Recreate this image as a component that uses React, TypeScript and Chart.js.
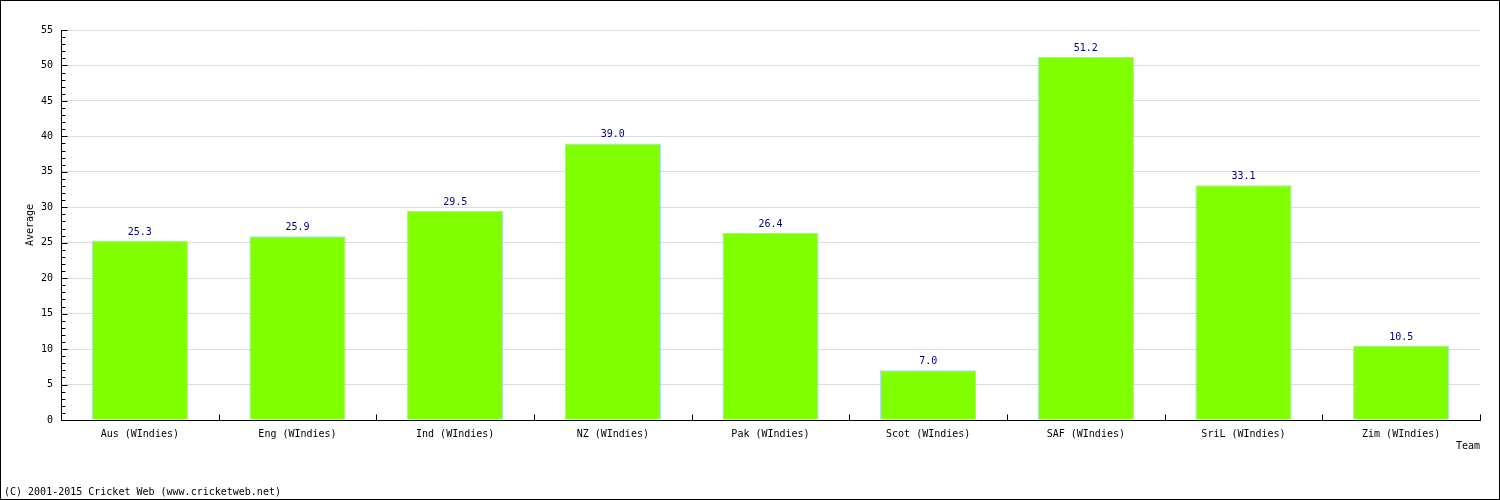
import { useEffect, useRef } from 'react';
import { Chart, registerables } from 'chart.js';

Chart.register(...registerables);

const categories = [
  'Aus (WIndies)',
  'Eng (WIndies)',
  'Ind (WIndies)',
  'NZ (WIndies)',
  'Pak (WIndies)',
  'Scot (WIndies)',
  'SAF (WIndies)',
  'SriL (WIndies)',
  'Zim (WIndies)',
];
const averages = [25.3, 25.9, 29.5, 39.0, 26.4, 7.0, 51.2, 33.1, 10.5];
const yMin = 0;
const yMax = 55;
const yStep = 5;
const yMinorStep = 1;
const yTitle = 'Average';
const xTitle = 'Team';
const footer = '(C) 2001-2015 Cricket Web (www.cricketweb.net)';

const FONT = "'DejaVu Sans Mono', monospace";

const decor = {
  id: 'decor',
  afterDatasetsDraw(chart: any) {
    const ctx = chart.ctx;
    const meta = chart.getDatasetMeta(0);
    ctx.save();
    ctx.font = `10px ${FONT}`;
    ctx.fillStyle = '#000080';
    ctx.textAlign = 'center';
    ctx.textBaseline = 'alphabetic';
    meta.data.forEach((el: any, i: number) => {
      ctx.fillText(averages[i].toFixed(1), el.x, el.y - 6);
    });
    ctx.restore();
  },
  afterDraw(chart: any) {
    const ctx = chart.ctx;
    const ys = chart.scales.y;
    const xs = chart.scales.x;
    const area = chart.chartArea;
    ctx.save();
    ctx.strokeStyle = '#000';
    ctx.lineWidth = 1;
    // y minor/major ticks (inside)
    const ax = Math.round(area.left) + 0.5;
    for (let v = yMin; v <= yMax; v += yMinorStep) {
      const y = Math.round(ys.getPixelForValue(v)) + 0.5;
      const len = v % yStep === 0 ? 6 : 4;
      ctx.beginPath();
      ctx.moveTo(ax, y);
      ctx.lineTo(ax + len, y);
      ctx.stroke();
    }
    // x ticks at category boundaries (upward)
    const by = Math.round(area.bottom) + 0.5;
    for (let i = 1; i <= categories.length; i++) {
      const x = Math.round((xs.getPixelForValue(i - 1) + xs.getPixelForValue(Math.min(i, categories.length - 1))) / 2);
      let px = x;
      if (i === categories.length) px = Math.round(area.right);
      ctx.beginPath();
      ctx.moveTo(px + 0.5, by);
      ctx.lineTo(px + 0.5, by - 6);
      ctx.stroke();
    }
    // titles
    ctx.fillStyle = '#000';
    ctx.font = `10px ${FONT}`;
    ctx.textAlign = 'right';
    ctx.textBaseline = 'middle';
    ctx.fillText(xTitle, area.right, 446);
    ctx.textAlign = 'left';
    ctx.fillText(footer, 4, 492);
    ctx.save();
    ctx.translate(30, (area.top + area.bottom) / 2);
    ctx.rotate(-Math.PI / 2);
    ctx.textAlign = 'center';
    ctx.fillText(yTitle, 0, 0);
    ctx.restore();
    // outer frame
    ctx.strokeRect(0.5, 0.5, chart.width - 1, chart.height - 1);
    ctx.restore();
  },
};

export default function App() {
  const ref = useRef<HTMLCanvasElement | null>(null);
  useEffect(() => {
    document.body.style.margin = '0';
    const chart = new Chart(ref.current as HTMLCanvasElement, {
      type: 'bar',
      data: {
        labels: categories,
        datasets: [
          {
            data: averages,
            backgroundColor: '#80ff00',
            borderColor: '#a8d8f0',
            borderWidth: 1,
            barPercentage: 0.61,
            categoryPercentage: 1,
          },
        ],
      },
      options: {
        responsive: false,
        animation: false,
        devicePixelRatio: 1,
        layout: { padding: { top: 30, right: 20, left: 0, bottom: 0 } },
        plugins: { legend: { display: false }, tooltip: { enabled: false } },
        scales: {
          x: {
            grid: { display: false, drawTicks: false },
            border: { display: true, color: '#000' },
            ticks: { font: { family: FONT, size: 10 }, color: '#000', padding: 8, maxRotation: 0, autoSkip: false },
            afterFit(s: any) {
              s.height = 80;
            },
          },
          y: {
            min: yMin,
            max: yMax,
            grid: { color: '#dddddd', drawTicks: false },
            border: { display: true, color: '#000' },
            ticks: { stepSize: yStep, font: { family: FONT, size: 10 }, color: '#000', padding: 8 },
            afterFit(s: any) {
              s.width = 61;
            },
          },
        },
      },
      plugins: [decor],
    });
    return () => chart.destroy();
  }, []);
  return (
    <div style={{ width: 1500, height: 500 }}>
      <canvas ref={ref} width={1500} height={500} />
    </div>
  );
}
